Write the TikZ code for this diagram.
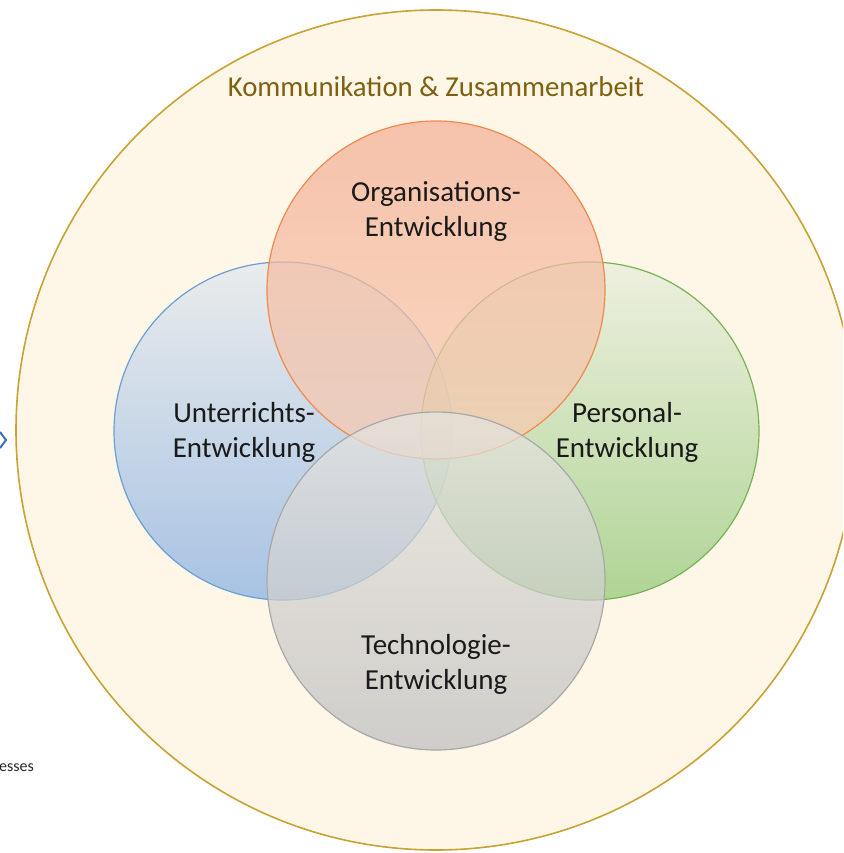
\documentclass[tikz,border=0pt]{standalone}
\usepackage{fontspec}
\setmainfont{Carlito}
\definecolor{cream}{HTML}{FEF7E8}
\definecolor{gold}{HTML}{C9A233}
\definecolor{titlecol}{HTML}{7F6010}
\definecolor{orgline}{HTML}{EE8A4E}
\definecolor{orgtop}{HTML}{F4AE94}
\definecolor{orgbot}{HTML}{F7CDB4}
\definecolor{blueline}{HTML}{6C9FD2}
\definecolor{bluetop}{HTML}{E2E8EE}
\definecolor{bluebot}{HTML}{86AFE2}
\definecolor{greenline}{HTML}{78B254}
\definecolor{greentop}{HTML}{E8EEDC}
\definecolor{greenbot}{HTML}{92C776}
\definecolor{grayline}{HTML}{A8A8A8}
\definecolor{graytop}{HTML}{E6E4E0}
\definecolor{graybot}{HTML}{BEBEBE}
\definecolor{txt}{HTML}{1A1A1A}
\definecolor{chev}{HTML}{3E6DB0}
\tikzset{
  venn/.style={circle, minimum size=338pt, inner sep=0pt, line width=1.2pt, fill opacity=0.72},
  lbl/.style={align=center, text=txt, font=\fontsize{29}{35}\selectfont, inner sep=0pt}
}
\begin{document}
\begin{tikzpicture}[x=1pt,y=-1pt]
\clip (0,0) rectangle (843,853);
\fill[white] (0,0) rectangle (843,853);
\node[circle, minimum size=840pt, inner sep=0pt, fill=cream, draw=gold, line width=1.6pt] (outer) at (436,430) {};
\node[text=titlecol, font=\fontsize{28.8}{32}\selectfont, inner sep=0pt] (title) at (436,87) {Kommunikation \& Zusammenarbeit};
\node[venn, draw=blueline, top color=bluetop, bottom color=bluebot] (blue) at (283,431) {};
\node[venn, draw=greenline, top color=greentop, bottom color=greenbot] (green) at (590,431) {};
\node[venn, draw=orgline, top color=orgtop, bottom color=orgbot] (org) at (436,290) {};
\node[venn, draw=grayline, top color=graytop, bottom color=graybot] (gray) at (436,581) {};
\node[lbl] (torg) at (436,211.5) {Organisations-\\Entwicklung};
\node[lbl] (tblue) at (244,432.5) {Unterrichts-\\Entwicklung};
\node[lbl] (tgreen) at (627,432.5) {Personal-\\Entwicklung};
\node[lbl] (tgray) at (436,664) {Technologie-\\Entwicklung};
\draw[color=chev, line width=2pt] (0,432) -- (6,440) -- (0,448);
\node[anchor=west, inner sep=0pt, font=\fontsize{16}{18}\selectfont, text=black!85] (esses) at (-1,768) {esses};
\end{tikzpicture}
\end{document}
